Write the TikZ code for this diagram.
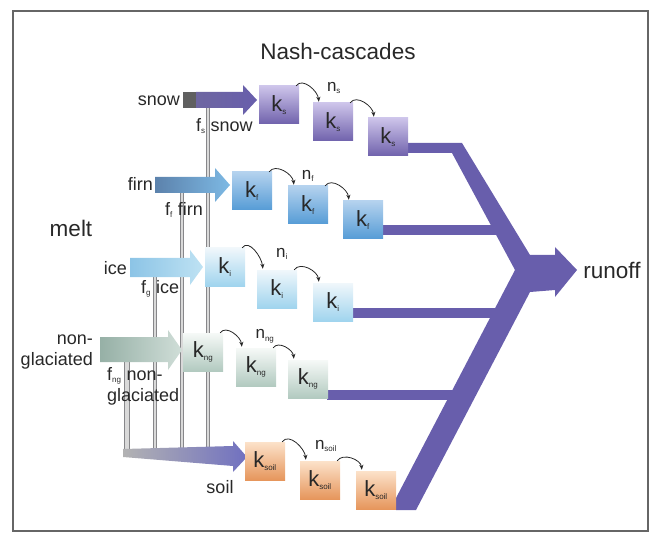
\documentclass[tikz,border=0pt]{standalone}
\usepackage{fontspec}
\setmainfont{Liberation Sans}
\usetikzlibrary{arrows.meta}
\definecolor{runc}{RGB}{104,94,172}
\definecolor{snowT}{RGB}{205,196,234}
\definecolor{snowB}{RGB}{112,98,172}
\definecolor{firnT}{RGB}{180,210,238}
\definecolor{firnB}{RGB}{86,156,214}
\definecolor{iceT}{RGB}{240,247,251}
\definecolor{iceB}{RGB}{160,212,238}
\definecolor{ngT}{RGB}{246,249,247}
\definecolor{ngB}{RGB}{178,202,192}
\definecolor{soilT}{RGB}{252,226,202}
\definecolor{soilB}{RGB}{230,150,92}
\definecolor{txt}{RGB}{40,40,40}
\definecolor{lineg}{RGB}{135,135,138}
\newcommand\tinysub[1]{\textsubscript{\fontsize{8}{8}\selectfont #1}}
\begin{document}
\begin{tikzpicture}[x=1pt,y=-1pt,
  kbox/.style={minimum width=40pt,minimum height=38pt,inner sep=0pt,
    font=\fontsize{22}{24}\selectfont,text=txt},
  snowbox/.style={kbox,top color=snowT,bottom color=snowB},
  firnbox/.style={kbox,top color=firnT,bottom color=firnB},
  icebox/.style={kbox,top color=iceT,bottom color=iceB},
  ngbox/.style={kbox,top color=ngT,bottom color=ngB},
  soilbox/.style={kbox,top color=soilT,bottom color=soilB},
  lbl/.style={font=\fontsize{18}{21}\selectfont,text=txt,inner sep=0pt},
  nlbl/.style={font=\fontsize{17}{19}\selectfont,text=txt,inner sep=0pt},
  big/.style={font=\fontsize{22.5}{25}\selectfont,text=txt,inner sep=0pt},
  cas/.style={-{Stealth[length=5pt,width=4pt]},line width=0.8pt,black!85},
  splitline/.style={draw=lineg,line width=0.9pt,double=gray!30,double distance=1.6pt},
  frame/.style={draw=gray!80!black,line width=1.3pt},
]
\useasboundingbox (0,0) rectangle (650,537);
\draw[frame] (13,11) rectangle (648,531);

% split lines
\coordinate (sv1) at (208,108); \coordinate (sv2) at (208,452);
\coordinate (fv1) at (182,192); \coordinate (fv2) at (182,452);
\coordinate (iv1) at (155,277); \coordinate (iv2) at (155,452);
\coordinate (nv1) at (127,362); \coordinate (nv2) at (127,452);
\draw[splitline] (sv1) -- (sv2);
\draw[splitline] (fv1) -- (fv2);
\draw[splitline] (iv1) -- (iv2);
\draw[splitline,double distance=4pt] (nv1) -- (nv2);

% input arrows
\shade[left color=runc!75!gray,right color=runc] (196,92) -- (243,92) -- (243,85) -- (257,100) -- (243,115) -- (243,108) -- (196,108) -- cycle;
\fill[gray!75!black] (183,92) rectangle (196,108);
\shade[left color={rgb,255:red,92;green,130;blue,172},right color={rgb,255:red,125;green,185;blue,228}] (155,177) -- (215,177) -- (215,168) -- (230,185) -- (215,202) -- (215,193) -- (155,193) -- cycle;
\shade[left color={rgb,255:red,140;green,196;blue,230},right color={rgb,255:red,190;green,226;blue,243}] (130,258) -- (190,258) -- (190,250) -- (203,267) -- (190,285) -- (190,277) -- (130,277) -- cycle;
\shade[left color={rgb,255:red,150;green,176;blue,166},right color={rgb,255:red,208;green,222;blue,216}] (100,337) -- (168,337) -- (168,330) -- (182,350) -- (168,370) -- (168,362) -- (100,362) -- cycle;
\shade[left color=gray!60,right color={rgb,255:red,112;green,112;blue,192}] (123,449) -- (233,446) -- (233,441) -- (247,457) -- (233,472) -- (233,466) -- (123,457) -- cycle;

% runoff chevron and bands
\fill[runc] (462,143) -- (530,255) -- (555,255) -- (555,247) -- (577,270) -- (555,297) -- (555,290) -- (530,292) -- (416,510) -- (396,510) -- (396,498) -- (515,270) -- (452,153) -- (407,153) -- (407,143) -- cycle;
\fill[runc] (382,225) rectangle (500,235);
\fill[runc] (352,308) rectangle (497,318);
\fill[runc] (327,390) rectangle (460,400);

% boxes
\node[snowbox] (s1) at (279,105) {k\tinysub{s}};
\node[snowbox] (s2) at (333,122) {k\tinysub{s}};
\node[snowbox] (s3) at (388,137) {k\tinysub{s}};
\node[firnbox] (f1) at (252,191) {k\tinysub{f}};
\node[firnbox] (f2) at (308,205) {k\tinysub{f}};
\node[firnbox] (f3) at (363,220) {k\tinysub{f}};
\node[icebox] (i1) at (225,267) {k\tinysub{i}};
\node[icebox] (i2) at (277,289) {k\tinysub{i}};
\node[icebox] (i3) at (333,302) {k\tinysub{i}};
\node[ngbox] (g1) at (203,352) {k\tinysub{ng}};
\node[ngbox] (g2) at (256,367) {k\tinysub{ng}};
\node[ngbox] (g3) at (308,379) {k\tinysub{ng}};
\node[soilbox] (o1) at (265,461) {k\tinysub{soil}};
\node[soilbox] (o2) at (320,480) {k\tinysub{soil}};
\node[soilbox] (o3) at (376,490) {k\tinysub{soil}};

% cascade arcs
\foreach \a/\b in {s1/s2,s2/s3,f1/f2,f2/f3,i1/i2,i2/i3,g1/g2,g2/g3,o1/o2,o2/o3}
  \draw[cas] ([xshift=-3pt]\a.north east) to[out=55,in=95] ([xshift=6pt,yshift=1pt]\b.north west);

% labels
\node[big] (title) at (338,51) {Nash-cascades};
\node[big] (melt) at (71,228) {melt};
\node[big] (runoff) at (612,270) {runoff};
\node[lbl,anchor=east] (lsnow) at (180,101) {snow};
\node[lbl,anchor=east] (lfirn) at (153,184) {firn};
\node[lbl,anchor=east] (lice) at (127,268) {ice};
\node[lbl,anchor=east,align=right] (lng) at (93,352) {non-\\glaciated};
\node[lbl] (lsoil) at (220,487) {soil};
\node[lbl,anchor=west] (fs) at (196,126) {f\tinysub{s} snow};
\node[lbl,anchor=west] (ff) at (165,210) {f\tinysub{f} firn};
\node[lbl,anchor=west] (fg) at (141,289) {f\tinysub{g} ice};
\node[lbl,anchor=west,align=left] (fng) at (107,386) {f\tinysub{ng} non-\\glaciated};
\node[nlbl] (ns) at (334,88) {n\tinysub{s}};
\node[nlbl] (nf) at (308,176) {n\tinysub{f}};
\node[nlbl] (ni) at (282,254) {n\tinysub{i}};
\node[nlbl] (nng) at (265,336) {n\tinysub{ng}};
\node[nlbl] (nsoil) at (326,446) {n\tinysub{soil}};
\end{tikzpicture}
\end{document}
